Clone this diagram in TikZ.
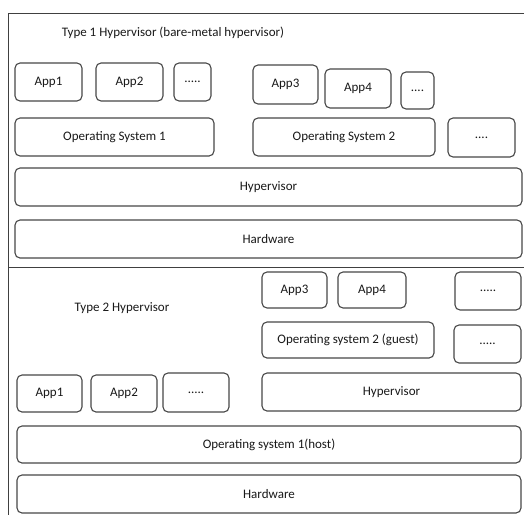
\documentclass[tikz,border=0pt]{standalone}
\usepackage{fontspec}
\setmainfont{Carlito}
\begin{document}
\begin{tikzpicture}[x=1pt,y=-1pt,
  box/.style={draw=black!72, line width=1.1pt, rounded corners=5pt, fill=white,
    inner sep=0pt, font=\fontsize{13}{15}\selectfont, text=black!90},
  frame/.style={draw=black!75, line width=1pt},
  label/.style={font=\fontsize{13}{15}\selectfont, text=black!90}]
% box from left/top/right/bottom in pixel coordinates
\newcommand\bx[6]{\node[box, minimum width={(#4-#2)*1pt}, minimum height={(#5-#3)*1pt}]
  (#1) at ({(#2+#4)/2},{(#3+#5)/2}) {#6};}
\useasboundingbox (0,0) rectangle (529,515);
% outer frame and divider
\coordinate (tl) at (8,13);
\coordinate (tr) at (524,13);
\coordinate (bl) at (8,515);
\coordinate (ml) at (8,267);
\coordinate (mr) at (524,267);
\draw[frame] (tr) -- (tl) -- (bl);
\draw[frame] (ml) -- (mr);
% Type 1
\node[label] (t1) at (173,33) {Type 1 Hypervisor (bare-metal hypervisor)};
\bx{a1}{15}{63}{82}{101}{App1}
\bx{a2}{96}{63}{163}{101}{App2}
\bx{d1}{174}{63}{211}{101}{.....}
\bx{a3}{253}{65}{318}{104}{App3}
\bx{a4}{325}{69}{391}{108}{App4}
\bx{d2}{401}{72}{434}{109}{....}
\bx{os1}{15}{118}{214}{156}{Operating System 1}
\bx{os2}{253}{118}{435}{156}{Operating System 2}
\bx{d3}{448}{118}{515}{157}{....}
\bx{hv1}{15}{168}{522}{206}{Hypervisor}
\bx{hw1}{15}{220}{522}{258}{Hardware}
% Type 2
\node[label] (t2) at (122,308) {Type 2 Hypervisor};
\bx{b3}{262}{272}{327}{308}{App3}
\bx{b4}{338}{272}{406}{308}{App4}
\bx{e1}{455}{272}{521}{310}{.....}
\bx{gos}{262}{322}{434}{358}{Operating system 2 (guest)}
\bx{e2}{454}{325}{521}{363}{.....}
\bx{b1}{17}{375}{82}{412}{App1}
\bx{b2}{91}{375}{157}{412}{App2}
\bx{e3}{163}{373}{229}{412}{.....}
\bx{hv2}{262}{373}{521}{411}{Hypervisor}
\bx{hos}{17}{426}{521}{463}{Operating system 1(host)}
\bx{hw2}{17}{475}{521}{513}{Hardware}
\end{tikzpicture}
\end{document}
